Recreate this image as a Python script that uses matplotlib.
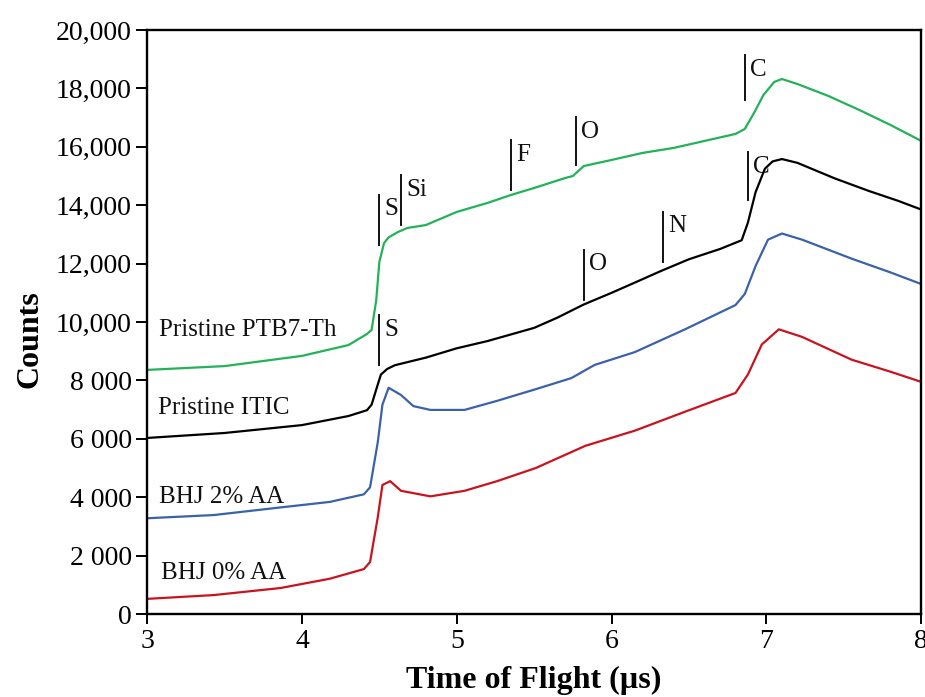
import matplotlib
matplotlib.use("Agg")
import matplotlib.pyplot as plt
from matplotlib.ticker import FixedLocator, FixedFormatter

# ---- data ----
t_ptb7 = [3.00, 3.50, 4.00, 4.30, 4.42, 4.45, 4.48, 4.50, 4.53, 4.56, 4.62, 4.68, 4.80,
          5.00, 5.20, 5.35, 5.50, 5.70, 5.75, 5.82, 6.00, 6.20, 6.40, 6.60, 6.80, 6.86,
          6.92, 6.98, 7.05, 7.10, 7.20, 7.40, 7.60, 7.80, 8.00]
c_ptb7 = [8360, 8490, 8840, 9210, 9590, 9730, 10750, 12050, 12700, 12900, 13080, 13220, 13320,
          13770, 14080, 14350, 14590, 14930, 15000, 15340, 15550, 15790, 15960, 16200, 16440, 16610,
          17160, 17770, 18220, 18320, 18150, 17740, 17260, 16750, 16200]

t_itic = [3.00, 3.50, 4.00, 4.30, 4.42, 4.45, 4.48, 4.51, 4.55, 4.60, 4.80, 5.00, 5.20,
          5.40, 5.50, 5.65, 5.82, 6.00, 6.15, 6.32, 6.50, 6.70, 6.84, 6.88, 6.93, 6.99,
          7.04, 7.10, 7.20, 7.44, 7.66, 7.85, 8.00]
c_itic = [6030, 6200, 6470, 6780, 6980, 7170, 7690, 8200, 8390, 8520, 8780, 9100, 9350,
          9650, 9800, 10150, 10600, 11000, 11350, 11750, 12150, 12500, 12800, 13400, 14450, 15250,
          15500, 15580, 15450, 14920, 14490, 14150, 13850]

t_bhj2 = [3.00, 3.43, 3.86, 4.18, 4.40, 4.44, 4.49, 4.52, 4.56, 4.64, 4.72, 4.83, 5.05,
          5.26, 5.51, 5.74, 5.89, 6.15, 6.47, 6.80, 6.86, 6.93, 7.01, 7.10, 7.23, 7.55, 7.80, 8.00]
c_bhj2 = [3280, 3390, 3650, 3840, 4100, 4340, 5890, 7170, 7750, 7500, 7120, 6990, 6990,
          7300, 7700, 8080, 8530, 8970, 9740, 10580, 10960, 11920, 12820, 13030, 12820, 12170, 11700, 11300]

t_bhj0 = [3.00, 3.43, 3.86, 4.18, 4.40, 4.44, 4.49, 4.52, 4.57, 4.64, 4.83, 5.05, 5.26,
          5.51, 5.83, 6.15, 6.47, 6.80, 6.88, 6.97, 7.08, 7.23, 7.55, 7.80, 8.00]
c_bhj0 = [520, 650, 890, 1210, 1540, 1780, 3320, 4420, 4550, 4220, 4030, 4220, 4550,
          5000, 5760, 6280, 6920, 7570, 8200, 9230, 9750, 9490, 8710, 8300, 7950]

series_names = ["Pristine PTB7-Th", "Pristine ITIC", "BHJ 2% AA", "BHJ 0% AA"]
series_colors = ["#23b258", "#000000", "#3b62a8", "#c8141e"]
label_pos = [(3.08, 9730), (3.07, 7050), (3.08, 4000), (3.09, 1420)]

# element markers: (x, y_bottom, y_top, label)
markers_x = [4.50, 4.64, 5.35, 5.77, 6.86, 4.50, 5.82, 6.33, 6.88]
markers_y0 = [12640, 13320, 14520, 15380, 17600, 8530, 10750, 12050, 14180]
markers_y1 = [14350, 15030, 16230, 17020, 19140, 10240, 12470, 13770, 15820]
markers_lab = ["S", "Si", "F", "O", "C", "S", "O", "N", "C"]

xticks = [3, 4, 5, 6, 7, 8]
yticks = [0, 2000, 4000, 6000, 8000, 10000, 12000, 14000, 16000, 18000, 20000]
yticklabels = ["0", "2 000", "4 000", "6 000", "8 000", "10,000", "12,000",
               "14,000", "16,000", "18,000", "20,000"]

plt.rcParams["font.family"] = ["Liberation Serif", "DejaVu Serif"]

fig = plt.figure(figsize=(9.25, 6.97), dpi=100)
ax = fig.add_axes([0.159, 0.119, 0.837, 0.838])

xs = [t_ptb7, t_itic, t_bhj2, t_bhj0]
ys = [c_ptb7, c_itic, c_bhj2, c_bhj0]
for x, y, col in zip(xs, ys, series_colors):
    ax.plot(x, y, color=col, lw=1.6, solid_joinstyle="round")

for name, (lx, ly) in zip(series_names, label_pos):
    ax.text(lx, ly, name, fontsize=18, ha="left", va="center", color="#111111")

for mx, y0, y1, lab in zip(markers_x, markers_y0, markers_y1, markers_lab):
    ax.plot([mx, mx], [y0, y1], color="#111111", lw=1.4)
    ax.text(mx + 0.035, y1 - 120, lab, fontsize=18, ha="left", va="top", color="#111111")

ax.set_xlim(3, 8)
ax.set_ylim(0, 20000)
ax.xaxis.set_major_locator(FixedLocator(xticks))
ax.yaxis.set_major_locator(FixedLocator(yticks))
ax.yaxis.set_major_formatter(FixedFormatter(yticklabels))
ax.tick_params(axis="x", direction="out", length=7, width=1.4, labelsize=20, pad=4)
ax.tick_params(axis="y", direction="out", length=8, width=1.4, labelsize=20, pad=3)
for s in ax.spines.values():
    s.set_linewidth(1.7)

ax.set_xlabel("Time of Flight (µs)", fontsize=23, fontweight="bold", labelpad=8)
ax.set_ylabel("Counts", fontsize=23, fontweight="bold")
ax.yaxis.set_label_coords(-0.132, 0.47)

fig.savefig("out.png", dpi=100)
